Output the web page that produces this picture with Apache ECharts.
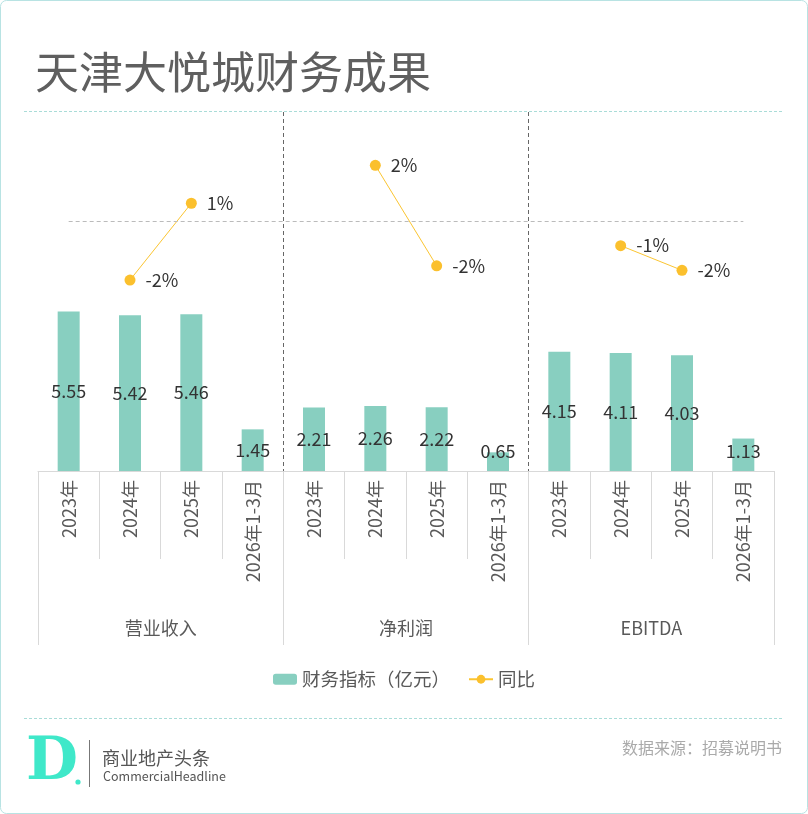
<!DOCTYPE html>
<html>
<head>
<meta charset="utf-8">
<script src="https://cdn.jsdelivr.net/npm/echarts@6/dist/echarts.min.js"></script>
<style>
  html, body { margin: 0; padding: 0; background: #fff; }
  #chart { width: 808px; height: 814px; }
</style>
</head>
<body>
<div id="chart"></div>
<script>
// 分组与类目
const groups = ['营业收入', '净利润', 'EBITDA']
const periods = ['2023年', '2024年', '2025年', '2026年1-3月']
const categories = groups.flatMap(() => periods)

// 财务指标（亿元）
const revenue = [5.55, 5.42, 5.46, 1.45]
const netProfit = [2.21, 2.26, 2.22, 0.65]
const ebitda = [4.15, 4.11, 4.03, 1.13]

// 同比（%），2023年与一季度无数据
const revenueYoy = [null, -2.34, 0.74, null]
const netProfitYoy = [null, 2.26, -1.77, null]
const ebitdaYoy = [null, -0.96, -1.95, null]

const barData = [...revenue, ...netProfit, ...ebitda]
const yoyData = [...revenueYoy, ...netProfitYoy, ...ebitdaYoy]

const chart = echarts.init(document.getElementById('chart'))
const cjk = '"Noto Sans CJK SC", "Noto Sans", sans-serif'

const option = {
  backgroundColor: '#fff',
  textStyle: { fontFamily: cjk },
  title: {
    text: '天津大悦城财务成果',
    left: 30,
    top: 45,
    textStyle: { fontSize: 44, fontWeight: 'normal', color: '#5f5f5f', fontFamily: cjk }
  },
  legend: {
    left: 'center',
    top: 665,
    itemWidth: 24,
    itemHeight: 11,
    itemGap: 18,
    textStyle: { fontSize: 18.5, color: '#595959', fontFamily: cjk },
    data: ['财务指标（亿元）', '同比']
  },
  grid: { left: 38, right: 34, top: 112, bottom: 343, containLabel: false },
  xAxis: [
    {
      type: 'category',
      position: 'bottom',
      data: categories,
      axisLine: { onZero: false, lineStyle: { color: '#d9d9d9' } },
      axisTick: { show: true, inside: false, length: 88, interval: 0, lineStyle: { color: '#d9d9d9' } },
      axisLabel: { rotate: 90, interval: 0, margin: 9, fontSize: 18, color: '#595959', fontFamily: cjk },
      splitLine: { show: false }
    },
    {
      type: 'category',
      position: 'bottom',
      data: groups,
      axisLine: { show: false, onZero: false },
      axisTick: { show: true, inside: false, length: 174, interval: 0, lineStyle: { color: '#d9d9d9' } },
      axisLabel: { interval: 0, margin: 148, fontSize: 18, color: '#595959', fontFamily: cjk },
      splitLine: {
        show: true,
        showMinLine: false,
        showMaxLine: false,
        lineStyle: { color: '#666', type: [4, 3], width: 1 }
      }
    }
  ],
  yAxis: [
    { type: 'value', min: 0, max: 12.5, show: false, splitLine: { show: false } },
    { type: 'value', min: -10, max: 4.4, show: false, splitLine: { show: false } }
  ],
  series: [
    {
      name: '财务指标（亿元）',
      type: 'bar',
      xAxisIndex: 0,
      yAxisIndex: 0,
      barWidth: 22,
      data: barData,
      itemStyle: { color: '#88cfc0' },
      label: {
        show: true,
        position: 'inside',
        fontSize: 18,
        color: '#333',
        fontFamily: cjk,
        formatter: p => p.value.toFixed(2)
      },
      // 矮柱的数字不贴底
      labelLayout: p => {
        const r = p.labelRect
        const cx = r.x + r.width / 2
        const cy = r.y + r.height / 2
        return { x: cx, y: Math.min(cy, 451), align: 'center', verticalAlign: 'middle' }
      }
    },
    {
      name: '同比',
      type: 'line',
      xAxisIndex: 0,
      yAxisIndex: 1,
      data: yoyData,
      connectNulls: false,
      symbol: 'circle',
      symbolSize: 11,
      lineStyle: { color: '#fbc531', width: 1 },
      itemStyle: { color: '#fbc02d' },
      label: {
        show: true,
        position: 'right',
        distance: 10,
        fontSize: 18,
        color: '#333',
        fontFamily: cjk,
        formatter: p => Math.round(p.value) + '%'
      },
      markLine: {
        silent: true,
        symbol: 'none',
        label: { show: false },
        lineStyle: { color: '#bbb', type: [4, 3], width: 1 },
        data: [[{ coord: [0, 0] }, { coord: [11, 0] }]]
      }
    }
  ],
  graphic: [
    // 外框
    {
      type: 'rect',
      shape: { x: 0.5, y: 0.5, width: 807, height: 813, r: 6 },
      style: { fill: 'none', stroke: '#b8e3e3', lineWidth: 1 },
      silent: true
    },
    {
      type: 'line',
      shape: { x1: 24, y1: 111.5, x2: 783, y2: 111.5 },
      style: { stroke: '#a9dcd8', lineWidth: 1, lineDash: [3, 2] }
    },
    {
      type: 'line',
      shape: { x1: 24, y1: 718.5, x2: 783, y2: 718.5 },
      style: { stroke: '#a9dcd8', lineWidth: 1, lineDash: [3, 2] }
    },
    // logo
    {
      type: 'text',
      left: 26,
      top: 733,
      style: { text: 'D', fontSize: 60, fontFamily: '"DejaVu Serif", serif', fontWeight: 'bold', fill: '#3fe8c9' }
    },
    {
      type: 'circle',
      shape: { cx: 78, cy: 782, r: 2.6 },
      style: { fill: '#3fe8c9' }
    },
    {
      type: 'line',
      shape: { x1: 89.5, y1: 740, x2: 89.5, y2: 787 },
      style: { stroke: '#777', lineWidth: 1 }
    },
    {
      type: 'text',
      left: 102,
      top: 749,
      style: { text: '商业地产头条', fontSize: 18, fontFamily: cjk, fill: '#555' }
    },
    {
      type: 'text',
      left: 103,
      top: 770,
      style: { text: 'CommercialHeadline', fontSize: 12.5, fontFamily: cjk, fill: '#555' }
    },
    {
      type: 'text',
      right: 26,
      top: 740,
      style: { text: '数据来源：招募说明书', fontSize: 16, fontFamily: cjk, fill: '#aaa' }
    }
  ]
}

chart.setOption(option)
</script>
</body>
</html>
